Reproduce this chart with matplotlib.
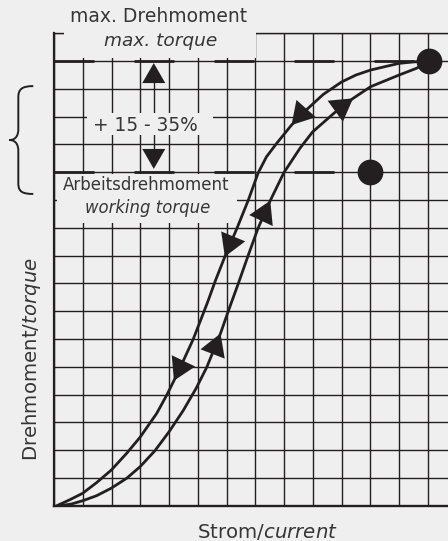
import numpy as np
import matplotlib
matplotlib.use("Agg")
import matplotlib.pyplot as plt
from matplotlib.patches import Rectangle, Polygon, PathPatch
from matplotlib.path import Path
from matplotlib.transforms import IdentityTransform

# ----------------------------------------
# DATA (grid units: x = current, y = torque)
# ----------------------------------------
# descending branch (arrows point down)
DOWN_X = [0.1, 0.56, 1.0, 1.48, 1.99, 2.53, 2.99, 3.57, 3.92, 4.17, 4.53, 4.84,
          5.10, 5.35, 5.62, 5.94, 6.36, 6.75, 7.10, 7.39, 7.75, 8.26, 8.78,
          9.36, 10.0, 10.5, 11.01, 12.0, 12.5, 12.95]
DOWN_Y = [0.0, 0.22, 0.45, 0.83, 1.28, 1.89, 2.46, 3.32, 3.98, 4.5, 5.29, 5.99,
          6.68, 7.35, 8.12, 8.96, 9.98, 10.98, 11.98, 12.56, 13.05, 13.7, 14.25,
          14.8, 15.25, 15.5, 15.68, 15.92, 15.97, 16.0]

# ascending branch (arrows point up)
UP_X = [0.2, 0.6, 1.0, 1.48, 1.99, 2.53, 2.99, 3.51, 4.0, 4.49, 4.94, 5.31,
        5.79, 6.06, 6.41, 6.75, 7.10, 7.52, 7.99, 8.55, 8.99, 9.74, 10.4,
        11.01, 12.0, 12.6, 13.0]
UP_Y = [0.0, 0.06, 0.18, 0.36, 0.63, 0.99, 1.40, 1.98, 2.66, 3.42, 4.22, 4.98,
        6.2, 7.0, 8.0, 9.0, 10.0, 10.98, 11.98, 12.86, 13.45, 14.13, 14.66,
        15.08, 15.5, 15.74, 15.95]

DOWN_ARROWS = [(8.26, 13.7), (5.94, 8.96), (4.17, 4.5)]
UP_ARROWS = [(10.4, 14.66), (7.52, 10.98), (5.79, 6.2)]

MAX_TORQUE = 16
WORK_TORQUE = 12
POINT_X = [13.05, 11.0]
POINT_Y = [MAX_TORQUE, WORK_TORQUE]

X_CELLS = 13.7
Y_CELLS = 17

# ----------------------------------------
# STYLE
# ----------------------------------------
BG = "#efefef"
INK = "#231f20"
TXT = "#363636"
plt.rcParams["font.family"] = ["DejaVu Sans"]
plt.rcParams["lines.scale_dashes"] = False

fig = plt.figure(figsize=(4.48, 5.41), dpi=100, facecolor=BG)
ax = fig.add_axes([0.1205, 0.0652, 0.8795, 0.8732])
ax.set_facecolor(BG)
ax.set_xlim(0, X_CELLS)
ax.set_ylim(0, Y_CELLS)

ax.set_xticks(np.arange(0, 14))
ax.set_yticks(np.arange(0, 18))
ax.tick_params(length=0, labelbottom=False, labelleft=False)
ax.grid(True, color=INK, lw=1.0)
ax.set_axisbelow(True)

ax.spines["right"].set_visible(False)
ax.spines["left"].set_linewidth(1.6)
ax.spines["bottom"].set_linewidth(1.7)
ax.spines["top"].set_linewidth(1.0)
for s in ax.spines.values():
    s.set_color(INK)

# thick dashed torque levels
dash_kw = dict(colors=INK, lw=2.0, linestyles=[(0, (28.8, 28.8))],
               capstyle="butt", zorder=2)
ax.hlines(MAX_TORQUE, 0, POINT_X[0], **dash_kw)
ax.hlines(WORK_TORQUE, 0, 9.75, **dash_kw)

# label boxes (cover the grid)
box_kw = dict(facecolor=BG, edgecolor="none", zorder=3, clip_on=False)
ax.add_patch(Rectangle((0.35, 16.1), 7.04 - 0.35, 1.5, **box_kw))
ax.add_patch(Rectangle((1.15, 13.34), 5.53 - 1.15, 14.13 - 13.34, **box_kw))
ax.add_patch(Rectangle((0.12, 10.17), 6.36 - 0.12, 11.93 - 10.17, **box_kw))

# curves
ax.plot(DOWN_X, DOWN_Y, color=INK, lw=2.0, solid_joinstyle="round", zorder=4)
ax.plot(UP_X, UP_Y, color=INK, lw=2.0, solid_joinstyle="round", zorder=4)
ax.scatter(POINT_X, POINT_Y, s=345, color=INK, zorder=6, linewidths=0)


def head(tip, direction, length=22, width=26):
    t = ax.transData.transform(tip)
    d = np.asarray(direction, float)
    d = d / np.hypot(*d)
    n = np.array([-d[1], d[0]])
    b = t - d * length
    tri = np.array([t, b + n * width / 2, b - n * width / 2])
    ax.add_patch(Polygon(tri, closed=True, transform=IdentityTransform(),
                         facecolor=INK, edgecolor="none", zorder=5))


def curve_dir(xs, ys, tip, forward):
    pts = ax.transData.transform(np.column_stack([xs, ys]))
    t = ax.transData.transform(tip)
    i = int(np.argmin(np.hypot(*(pts - t).T)))
    a = pts[max(i - 1, 0)]
    b = pts[min(i + 1, len(pts) - 1)]
    d = b - a
    return d if forward else -d


for tip in DOWN_ARROWS:
    head(tip, curve_dir(DOWN_X, DOWN_Y, tip, False))
for tip in UP_ARROWS:
    head(tip, curve_dir(UP_X, UP_Y, tip, True))

# double arrow between the two torque levels
AX_X = 3.47
ax.plot([AX_X, AX_X], [12.5, 15.5], color=INK, lw=1.0, zorder=2)
head((AX_X, 15.93), (0, 1), length=20, width=23)
head((AX_X, 12.12), (0, -1), length=20, width=23)

# brace on the left
brace = Path(
    [(-0.72, 15.1), (-1.1, 15.1), (-1.24, 15.0), (-1.24, 14.7),
     (-1.24, 13.55),
     (-1.24, 13.3), (-1.35, 13.16), (-1.55, 13.16),
     (-1.35, 13.16), (-1.24, 13.02), (-1.24, 12.77),
     (-1.24, 11.6),
     (-1.24, 11.3), (-1.1, 11.22), (-0.72, 11.22)],
    [Path.MOVETO, Path.CURVE4, Path.CURVE4, Path.CURVE4,
     Path.LINETO,
     Path.CURVE4, Path.CURVE4, Path.CURVE4,
     Path.CURVE4, Path.CURVE4, Path.CURVE4,
     Path.LINETO,
     Path.CURVE4, Path.CURVE4, Path.CURVE4])
ax.add_patch(PathPatch(brace, facecolor="none", edgecolor=INK, lw=1.4,
                       clip_on=False, zorder=4))

# ----------------------------------------
# TEXT
# ----------------------------------------
tkw = dict(color=TXT, ha="center", va="center", zorder=7, clip_on=False)
ax.text(3.65, 17.6, "max. Drehmoment", fontsize=13.5, **tkw)
ax.text(3.70, 16.73, "max. torque", fontsize=13.3, style="italic", **tkw)
ax.text(3.18, 13.68, "+ 15 - 35%", fontsize=13.4, **tkw)
ax.text(3.20, 11.53, "Arbeitsdrehmoment", fontsize=12.0, **tkw)
ax.text(3.25, 10.71, "working torque", fontsize=11.9, style="italic", **tkw)
ax.text(7.42, -0.94, "Strom/$\\mathit{current}$", fontsize=14.2, **tkw)
ax.text(-0.765, 5.28, "Drehmoment/$\\mathit{torque}$", fontsize=14.2,
        rotation=90, **tkw)

fig.savefig("out.png", dpi=100, facecolor=BG)
